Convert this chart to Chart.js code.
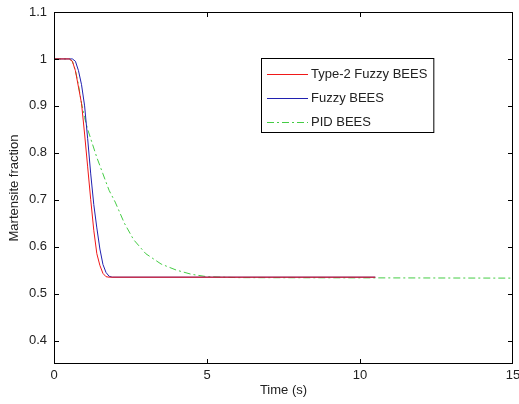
<!DOCTYPE html>
<html>
<head>
<meta charset="utf-8">
<script src="https://cdn.jsdelivr.net/npm/chart.js@4.4.0/dist/chart.umd.min.js"></script>
<style>
  html, body { margin: 0; padding: 0; background: #fff; }
</style>
</head>
<body>
<canvas id="c" width="519" height="404"></canvas>
<script>
// ---- data ----
const type2Time = [0, 0.5, 0.6, 0.7, 0.8, 0.9, 1.0, 1.1, 1.2, 1.3, 1.4, 1.5, 1.6, 1.7, 1.8, 10.5];
const type2Frac = [1, 1, 0.995, 0.975, 0.94, 0.905, 0.84, 0.77, 0.70, 0.635, 0.585, 0.56, 0.543, 0.536, 0.535, 0.535];

const fuzzyTime = [0, 0.6, 0.7, 0.8, 0.9, 1.0, 1.1, 1.2, 1.3, 1.4, 1.5, 1.6, 1.7, 1.8, 1.9, 10.5];
const fuzzyFrac = [1, 1, 0.995, 0.975, 0.945, 0.90, 0.83, 0.755, 0.69, 0.64, 0.595, 0.562, 0.545, 0.537, 0.535, 0.535];

const pidTime = [0, 0.5, 0.6, 0.7, 0.8, 0.9, 1.0, 1.1, 1.2, 1.4, 1.6, 1.8, 2.0, 2.3, 2.6, 3.0, 3.5, 4.0, 4.5, 5.0, 6.0, 15];
const pidFrac = [1, 1, 0.995, 0.975, 0.945, 0.905, 0.875, 0.85, 0.83, 0.79, 0.755, 0.72, 0.695, 0.65, 0.615, 0.585, 0.563, 0.55, 0.541, 0.536, 0.534, 0.533];

const seriesNames = ["Type-2 Fuzzy BEES", "Fuzzy BEES", "PID BEES"];
const xTicks = [0, 5, 10, 15];
const yTicks = [0.4, 0.5, 0.6, 0.7, 0.8, 0.9, 1, 1.1];

const FONT = "'Liberation Sans', Arial, sans-serif";

function pts(xs, ys) {
    return xs.map((t, i) => ({ x: t, y: ys[i] }));
}

// box round the axes, with inward ticks on all four sides
const frame = {
    id: "frame",
    afterDatasetsDraw(chart) {
        const { ctx, chartArea: a, scales: { x, y } } = chart;
        ctx.save();
        ctx.strokeStyle = "#000";
        ctx.lineWidth = 1;
        ctx.beginPath();
        ctx.rect(a.left + 0.5, a.top + 0.5, a.right - a.left - 1, a.bottom - a.top - 1);
        xTicks.forEach(v => {
            let px = Math.round(x.getPixelForValue(v)) + 0.5;
            if (px > a.right - 1) px = a.right - 0.5;
            ctx.moveTo(px, a.bottom); ctx.lineTo(px, a.bottom - 5);
            ctx.moveTo(px, a.top); ctx.lineTo(px, a.top + 5);
        });
        yTicks.forEach(v => {
            const py = Math.round(y.getPixelForValue(v)) + 0.5;
            ctx.moveTo(a.left, py); ctx.lineTo(a.left + 5, py);
            ctx.moveTo(a.right, py); ctx.lineTo(a.right - 5, py);
        });
        ctx.stroke();
        ctx.restore();
    }
};

// MATLAB style legend box inside the axes
const boxLegend = {
    id: "boxLegend",
    afterDraw(chart) {
        const ctx = chart.ctx;
        const left = 261, top = 58, rowH = 24, firstRow = 74;
        const lineX0 = 267, lineX1 = 308, textX = 311;
        ctx.save();
        ctx.font = "13px " + FONT;
        let w = 0;
        chart.data.datasets.forEach(d => { w = Math.max(w, ctx.measureText(d.label).width); });
        const right = textX + w + 6;
        const bottom = firstRow + rowH * (chart.data.datasets.length - 1) + 10;
        ctx.fillStyle = "#fff";
        ctx.fillRect(left, top, right - left, bottom - top);
        ctx.strokeStyle = "#000";
        ctx.lineWidth = 1;
        ctx.strokeRect(left + 0.5, top + 0.5, right - left, bottom - top);
        chart.data.datasets.forEach((d, i) => {
            const yy = firstRow + i * rowH + 0.5;
            ctx.strokeStyle = d.borderColor;
            ctx.setLineDash(d.borderDash || []);
            ctx.beginPath();
            ctx.moveTo(lineX0, yy); ctx.lineTo(lineX1, yy);
            ctx.stroke();
            ctx.setLineDash([]);
            ctx.fillStyle = "#222";
            ctx.textBaseline = "middle";
            ctx.fillText(d.label, textX, yy);
        });
        ctx.restore();
    }
};

const chart = new Chart(document.getElementById("c"), {
    type: "line",
    data: {
        datasets: [
            {
                label: seriesNames[0],
                data: pts(type2Time, type2Frac),
                borderColor: "#f01818",
                borderWidth: 1
            },
            {
                label: seriesNames[1],
                data: pts(fuzzyTime, fuzzyFrac),
                borderColor: "#2020b0",
                borderWidth: 1
            },
            {
                label: seriesNames[2],
                data: pts(pidTime, pidFrac),
                borderColor: "#44cc44",
                borderWidth: 1,
                borderDash: [7, 3, 2, 3]
            }
        ]
    },
    options: {
        responsive: false,
        animation: false,
        layout: { padding: { top: 12, right: 6, left: 0, bottom: 0 } },
        elements: { point: { radius: 0 }, line: { tension: 0 } },
        plugins: { legend: { display: false }, tooltip: { enabled: false } },
        scales: {
            x: {
                type: "linear",
                min: 0,
                max: 15,
                afterBuildTicks: s => { s.ticks = xTicks.map(v => ({ value: v })); },
                afterFit: s => { s.height = 40; s.paddingLeft = 0; s.paddingRight = 0; },
                grid: { display: false, drawTicks: false },
                border: { display: false },
                ticks: { padding: 4, color: "#222", font: { family: FONT, size: 13 }, maxRotation: 0 },
                title: { display: true, text: "Time (s)", color: "#222", font: { family: FONT, size: 13 }, padding: { top: 0, bottom: 6 } }
            },
            y: {
                min: 0.35,
                max: 1.1,
                afterBuildTicks: s => { s.ticks = yTicks.map(v => ({ value: v })); },
                afterFit: s => { s.width = 54; s.paddingTop = 0; s.paddingBottom = 0; },
                grid: { display: false, drawTicks: false },
                border: { display: false },
                ticks: { padding: 7, color: "#222", font: { family: FONT, size: 13 }, callback: v => String(v) },
                title: { display: true, text: "Martensite fraction", color: "#222", font: { family: FONT, size: 13 }, padding: { top: 7, bottom: 0 } }
            }
        }
    },
    plugins: [frame, boxLegend]
});
</script>
</body>
</html>
